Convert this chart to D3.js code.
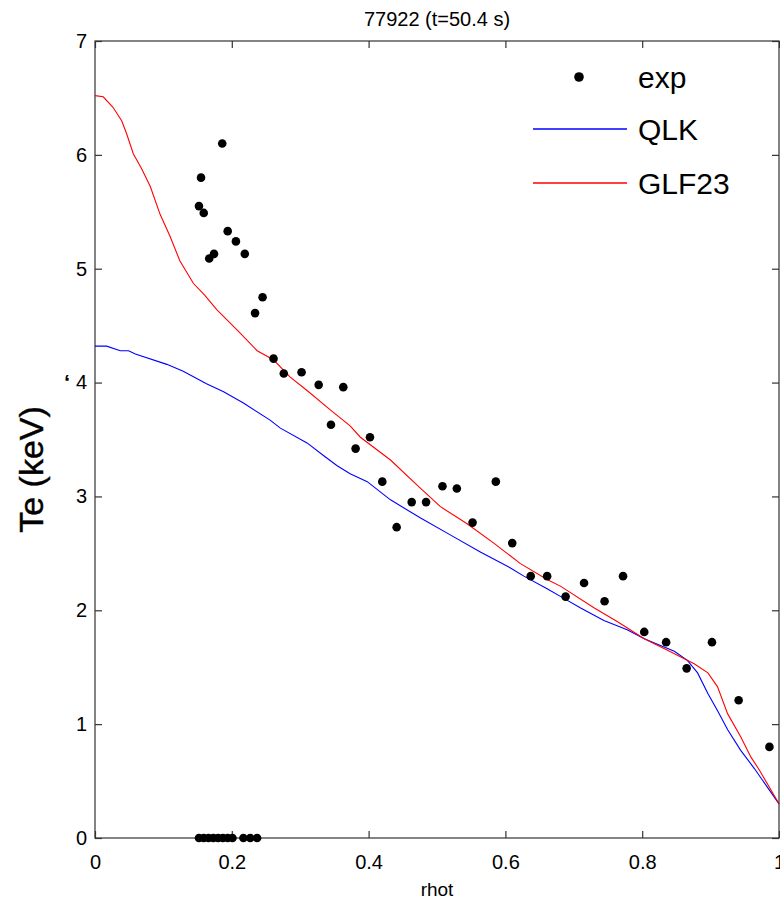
<!DOCTYPE html>
<html><head><meta charset="utf-8">
<script src="https://cdn.jsdelivr.net/npm/d3@7"></script>
<style>
html,body{margin:0;padding:0;background:#fff;}
text{font-family:"Liberation Sans",Arial,sans-serif;fill:#000;}
</style></head>
<body><svg id="c" width="780" height="901"></svg>
<script>
const title = "77922 (t=50.4 s)";
const xLabel = "rhot";
const yLabel = "Te (keV)";
const xTicks = [0, 0.2, 0.4, 0.6, 0.8, 1];
const xTickLabels = ["0", "0.2", "0.4", "0.6", "0.8", "1"];
const yTicks = [0, 1, 2, 3, 4, 5, 6, 7];
const seriesNames = ["exp", "QLK", "GLF23"];

const expRho = [0.186,0.155,0.152,0.159,0.194,0.206,0.219,0.174,0.167,0.245,0.234,0.261,0.276,0.302,0.327,0.363,0.345,0.402,0.381,0.420,0.441,0.463,0.484,0.508,0.529,0.586,0.552,0.610,0.637,0.661,0.688,0.715,0.745,0.772,0.803,0.835,0.865,0.902,0.941,0.986,
  0.152,0.159,0.166,0.173,0.180,0.187,0.194,0.201,0.217,0.227,0.237];
const expTe = [6.10,5.80,5.55,5.49,5.33,5.24,5.13,5.13,5.09,4.75,4.61,4.21,4.08,4.09,3.98,3.96,3.63,3.52,3.42,3.13,2.73,2.95,2.95,3.09,3.07,3.13,2.77,2.59,2.30,2.30,2.12,2.24,2.08,2.30,1.81,1.72,1.49,1.72,1.21,0.80,
  0,0,0,0,0,0,0,0,0,0,0];

const qlkRho = [0,0.017,0.037,0.049,0.059,0.105,0.129,0.163,0.188,0.217,0.256,0.271,0.310,0.334,0.354,0.373,0.398,0.432,0.476,0.520,0.564,0.608,0.627,0.661,0.681,0.710,0.744,0.778,0.803,0.847,0.866,0.881,0.896,0.910,0.925,0.944,0.964,1.0];
const qlkTe = [4.32,4.32,4.28,4.28,4.25,4.16,4.10,3.99,3.92,3.82,3.67,3.60,3.47,3.36,3.27,3.20,3.13,2.97,2.81,2.66,2.51,2.37,2.30,2.19,2.12,2.02,1.91,1.83,1.75,1.64,1.56,1.45,1.27,1.12,0.95,0.77,0.61,0.30];

const glfRho = [0,0.012,0.026,0.039,0.046,0.056,0.068,0.081,0.095,0.110,0.124,0.144,0.160,0.178,0.208,0.237,0.261,0.285,0.310,0.344,0.373,0.388,0.432,0.476,0.505,0.544,0.583,0.622,0.661,0.681,0.730,0.764,0.803,0.837,0.876,0.896,0.910,0.925,0.944,0.959,0.971,1.0];
const glfTe = [6.52,6.51,6.42,6.30,6.19,6.01,5.88,5.72,5.48,5.28,5.07,4.87,4.77,4.64,4.46,4.28,4.20,4.05,3.93,3.76,3.62,3.52,3.32,3.07,2.91,2.76,2.59,2.41,2.27,2.21,2.02,1.90,1.75,1.65,1.53,1.45,1.33,1.09,0.89,0.71,0.60,0.30];

const svg = d3.select("#c");
const L = 95, R = 779, T = 41, B = 838;
const x = d3.scaleLinear().domain([0,1]).range([L,R]);
const y = d3.scaleLinear().domain([0,7]).range([B,T]);

const tickLen = 7;
const axColor = "#333";

// frame
svg.append("rect").attr("x",L).attr("y",T).attr("width",R-L).attr("height",B-T)
  .attr("fill","none").attr("stroke",axColor).attr("stroke-width",1.2);

// axes via d3
const gx = svg.append("g").attr("transform",`translate(0,${B})`)
  .call(d3.axisBottom(x).tickValues(xTicks).tickFormat((d,i)=>xTickLabels[i]).tickSizeInner(-tickLen).tickSizeOuter(0).tickPadding(17));
const gxt = svg.append("g").attr("transform",`translate(0,${T})`)
  .call(d3.axisTop(x).tickValues(xTicks).tickFormat("").tickSizeInner(-tickLen).tickSizeOuter(0));
const gy = svg.append("g").attr("transform",`translate(${L},0)`)
  .call(d3.axisLeft(y).tickValues(yTicks).tickFormat(d3.format("d")).tickSizeInner(-tickLen).tickSizeOuter(0).tickPadding(8));
const gyr = svg.append("g").attr("transform",`translate(${R},0)`)
  .call(d3.axisRight(y).tickValues(yTicks).tickFormat("").tickSizeInner(-tickLen).tickSizeOuter(0));
[gx,gxt,gy,gyr].forEach(g=>{
  g.select(".domain").remove();
  g.selectAll(".tick line").attr("stroke",axColor).attr("stroke-width",1.2);
  g.selectAll(".tick text").attr("font-size",20).attr("font-family","'Liberation Sans',Arial,sans-serif").attr("fill","#000");
});

// lines
const line = d3.line().x(d=>x(d[0])).y(d=>y(d[1]));
svg.append("path").datum(d3.zip(qlkRho,qlkTe)).attr("d",line)
  .attr("fill","none").attr("stroke","#0000ff").attr("stroke-width",1.1);
svg.append("path").datum(d3.zip(glfRho,glfTe)).attr("d",line)
  .attr("fill","none").attr("stroke","#ff0000").attr("stroke-width",1.1);

// exp dots
svg.append("g").selectAll("circle").data(d3.zip(expRho,expTe)).join("circle")
  .attr("cx",d=>x(d[0])).attr("cy",d=>y(d[1])).attr("r",4.3).attr("fill","#000");

// legend
const lg = svg.append("g");
const rows = [77,129,183];
lg.append("circle").attr("cx",579).attr("cy",rows[0]).attr("r",4.8).attr("fill","#000");
lg.append("line").attr("x1",533).attr("x2",627).attr("y1",rows[1]).attr("y2",rows[1]).attr("stroke","#0000ff").attr("stroke-width",1.3);
lg.append("line").attr("x1",533).attr("x2",627).attr("y1",rows[2]).attr("y2",rows[2]).attr("stroke","#ff0000").attr("stroke-width",1.3);
seriesNames.forEach((n,i)=>{
  lg.append("text").attr("x",638).attr("y",rows[i]).attr("dy","0.35em").attr("font-size",30).text(n);
});

// title & labels
svg.append("text").attr("x",(L+R)/2).attr("y",26).attr("text-anchor","middle").attr("font-size",20).text(title);
svg.append("text").attr("x",(L+R)/2).attr("y",896).attr("text-anchor","middle").attr("font-size",19).text(xLabel);
svg.append("text").attr("transform",`translate(43,${(T+B)/2+30}) rotate(-90)`).attr("text-anchor","middle")
  .attr("font-size",34).attr("stroke","#000").attr("stroke-width",0.4).text(yLabel);
// small stray mark near the y axis
svg.append("text").attr("x",64).attr("y",390).attr("font-size",22).attr("font-weight","bold").text("\u2018");
</script></body></html>
